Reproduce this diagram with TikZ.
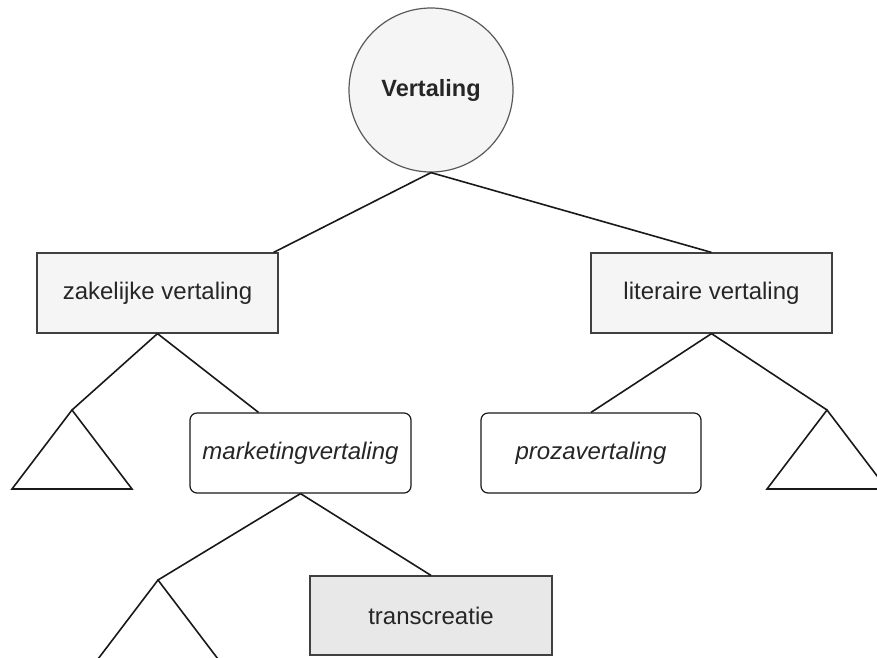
\documentclass[tikz,border=0pt]{standalone}
\usepackage{fontspec}
\setmainfont{Liberation Sans}
\usetikzlibrary{calc,shapes.geometric}

\begin{document}
\begin{tikzpicture}[x=1pt,y=-1pt,
    txt/.style={text=black!85,font=\fontsize{24}{28}\selectfont},
    box/.style={txt,draw=black!75,line width=1.2pt,fill=black!4,minimum width=241pt,minimum height=80pt,inner sep=0pt},
    rbox/.style={txt,draw=black!90,line width=1.2pt,fill=white,rounded corners=7pt,minimum width=221pt,minimum height=80pt,inner sep=0pt,font=\fontsize{24}{28}\selectfont\itshape},
    edge/.style={draw=black!90,line width=1.6pt},
    tri/.style={draw=black!90,line width=1.6pt}]
      \useasboundingbox (0,0) rectangle (877,657);
      \def\tw{60}
      \def\th{79}
      % top
      \node[txt,circle,draw=black!65,line width=1.2pt,fill=black!4,minimum size=164pt,font=\bfseries\fontsize{23.5}{28}\selectfont] (vert) at (431,90) {Vertaling};
      \node[box] (zak) at (157.5,293) {zakelijke vertaling};
      \node[box] (lit) at (711.5,293) {literaire vertaling};
      \node[rbox] (mkt) at (300.5,453) {marketingvertaling};
      \node[rbox,minimum width=220pt] (proza) at (591,453) {prozavertaling};
      \node[box,fill=black!9,minimum width=242pt,minimum height=79pt] (trans) at (431,615.5) {transcreatie};
      % triangles
      \coordinate (tl) at (72,410);
      \coordinate (tr) at (827,410);
      \coordinate (tb) at (158,580);
      \foreach \t in {tl,tr,tb}
        \draw[tri] (\t) -- ++(-\tw,\th) -- ++({2*\tw},0) -- cycle;
      % connectors
      \draw[edge] (vert.south) -- ($(zak.north east)+(-5,0)$);
      \draw[edge] (vert.south) -- (lit.north);
      \draw[edge] (zak.south) -- (tl);
      \draw[edge] (zak.south) -- ($(mkt.north)+(-42,0)$);
      \draw[edge] (lit.south) -- (proza.north);
      \draw[edge] (lit.south) -- (tr);
      \draw[edge] (mkt.south) -- (tb);
      \draw[edge] (mkt.south) -- (trans.north);
\end{tikzpicture}
\end{document}
